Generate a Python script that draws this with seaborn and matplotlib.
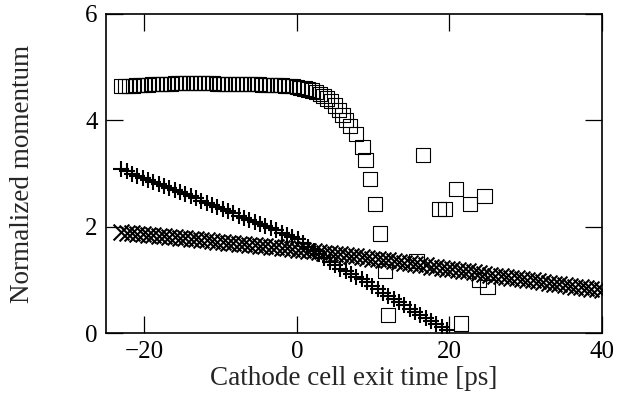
import matplotlib
matplotlib.use("Agg")
import matplotlib.pyplot as plt
import seaborn as sns
import pandas as pd

# ---- data ----
sq_x = [-23.0, -22.5, -22.0, -21.5, -21.0, -20.5, -20.0, -19.5, -19.0, -18.5,
        -18.0, -17.5, -17.0, -16.5, -16.0, -15.5, -15.0, -14.5, -14.0, -13.5,
        -13.0, -12.5, -12.0, -11.5, -11.0, -10.5, -10.0, -9.5, -9.0, -8.5,
        -8.0, -7.5, -7.0, -6.5, -6.0, -5.5, -5.0, -4.5, -4.0, -3.5,
        -3.0, -2.5, -2.0, -1.5, -1.0, -0.5, 0.0, 0.5, 1.0, 1.5,
        2.0, 2.5, 3.0, 3.5, 4.0, 4.5, 5.0, 5.5, 6.0, 6.5,
        7.0, 7.8, 8.6, 9.0, 9.6, 10.3, 10.9, 11.6, 12.0, 15.7,
        16.5, 18.6, 19.4, 20.9, 21.5, 22.7, 23.9, 24.6, 25.0]
sq_y = [4.64, 4.64, 4.65, 4.65, 4.66, 4.66, 4.67, 4.67, 4.68, 4.68,
        4.68, 4.69, 4.69, 4.69, 4.70, 4.70, 4.70, 4.70, 4.70, 4.70,
        4.70, 4.70, 4.70, 4.70, 4.70, 4.69, 4.69, 4.69, 4.69, 4.68,
        4.68, 4.68, 4.68, 4.68, 4.68, 4.68, 4.68, 4.67, 4.67, 4.67,
        4.66, 4.66, 4.66, 4.65, 4.65, 4.64, 4.62, 4.61, 4.60, 4.58,
        4.56, 4.53, 4.50, 4.46, 4.41, 4.36, 4.28, 4.20, 4.10, 4.00,
        3.90, 3.74, 3.50, 3.25, 2.89, 2.43, 1.87, 1.16, 0.34, 1.35,
        3.35, 2.33, 2.33, 2.71, 0.18, 2.43, 1.00, 2.58, 0.86]

plus_x = [-23.0, -22.3, -21.6, -20.9, -20.2, -19.5, -18.8, -18.1, -17.4, -16.7,
          -16.0, -15.3, -14.6, -13.9, -13.2, -12.5, -11.8, -11.1, -10.4, -9.7,
          -9.0, -8.3, -7.6, -6.9, -6.2, -5.5, -4.8, -4.1, -3.4, -2.7,
          -2.0, -1.3, -0.6, 0.1, 0.8, 1.5, 2.2, 2.9, 3.6, 4.3,
          5.0, 5.7, 6.4, 7.1, 7.8, 8.5, 9.2, 9.9, 10.6, 11.3,
          12.0, 12.7, 13.4, 14.1, 14.8, 15.5, 16.2, 16.9, 17.6, 18.3,
          19.0, 19.7]
plus_y = [3.08, 3.04, 3.00, 2.96, 2.92, 2.88, 2.84, 2.80, 2.76, 2.73,
          2.69, 2.65, 2.61, 2.57, 2.53, 2.49, 2.45, 2.41, 2.37, 2.33,
          2.29, 2.25, 2.21, 2.17, 2.13, 2.09, 2.05, 2.01, 1.97, 1.93,
          1.89, 1.85, 1.81, 1.76, 1.69, 1.62, 1.55, 1.48, 1.41, 1.34,
          1.27, 1.21, 1.16, 1.11, 1.06, 1.01, 0.95, 0.89, 0.83, 0.76,
          0.70, 0.64, 0.58, 0.52, 0.46, 0.40, 0.34, 0.28, 0.23, 0.17,
          0.11, 0.05]

cross_x = [-23.0, -22.3, -21.6, -20.9, -20.2, -19.5, -18.8, -18.1, -17.4, -16.7,
           -16.0, -15.3, -14.6, -13.9, -13.2, -12.5, -11.8, -11.1, -10.4, -9.7,
           -9.0, -8.3, -7.6, -6.9, -6.2, -5.5, -4.8, -4.1, -3.4, -2.7,
           -2.0, -1.3, -0.6, 0.1, 0.8, 1.5, 2.2, 2.9, 3.6, 4.3,
           5.0, 5.7, 6.4, 7.1, 7.8, 8.5, 9.2, 9.9, 10.6, 11.3,
           12.0, 12.7, 13.4, 14.1, 14.8, 15.5, 16.2, 16.9, 17.6, 18.3,
           19.0, 19.7, 20.4, 21.1, 21.8, 22.5, 23.2, 23.9, 24.6, 25.3,
           26.0, 26.7, 27.4, 28.1, 28.8, 29.5, 30.2, 30.9, 31.6, 32.3,
           33.0, 33.7, 34.4, 35.1, 35.8, 36.5, 37.2, 37.9, 38.6, 39.3,
           40.0]
cross_y = [1.90, 1.89, 1.88, 1.87, 1.86, 1.85, 1.84, 1.83, 1.82, 1.81,
           1.80, 1.79, 1.78, 1.77, 1.76, 1.75, 1.74, 1.73, 1.72, 1.71,
           1.70, 1.69, 1.68, 1.67, 1.66, 1.65, 1.64, 1.63, 1.62, 1.61,
           1.60, 1.59, 1.58, 1.57, 1.56, 1.55, 1.54, 1.53, 1.51, 1.50,
           1.49, 1.48, 1.47, 1.45, 1.44, 1.43, 1.42, 1.40, 1.39, 1.38,
           1.37, 1.35, 1.34, 1.32, 1.31, 1.30, 1.28, 1.27, 1.25, 1.24,
           1.23, 1.21, 1.20, 1.18, 1.17, 1.16, 1.14, 1.13, 1.11, 1.10,
           1.08, 1.07, 1.06, 1.04, 1.03, 1.01, 1.00, 0.99, 0.97, 0.96,
           0.94, 0.93, 0.92, 0.90, 0.89, 0.87, 0.86, 0.85, 0.83, 0.82,
           0.80]

x_ticks = [-20, 0, 20, 40]
y_ticks = [0, 2, 4, 6]
x_label = "Cathode cell exit time [ps]"
y_label = "Normalized momentum"

# ---- plotting ----
sns.set_theme(style="ticks")
plt.rcParams["font.family"] = ["Liberation Serif", "DejaVu Serif"]

fig = plt.figure(figsize=(6.18, 3.93), dpi=100)
ax = fig.add_axes([106 / 618, 60 / 393, 496 / 618, 319 / 393])

df_sq = pd.DataFrame({"x": sq_x, "y": sq_y})
df_plus = pd.DataFrame({"x": plus_x, "y": plus_y})
df_cross = pd.DataFrame({"x": cross_x, "y": cross_y})

sns.scatterplot(data=df_cross, x="x", y="y", ax=ax, marker="x", s=130,
                color="black", linewidth=1.5, zorder=2)
sns.scatterplot(data=df_plus, x="x", y="y", ax=ax, marker="+", s=140,
                color="black", linewidth=1.5, zorder=3)
sns.scatterplot(data=df_sq, x="x", y="y", ax=ax, marker="s", s=105,
                facecolor="none", edgecolor="black", linewidth=0.8, zorder=4)

ax.set_xlim(-25, 40)
ax.set_ylim(0, 6)
ax.set_xticks(x_ticks)
ax.set_yticks(y_ticks)
ax.set_xticklabels(["\u221220", "0", "20", "40"])
ax.set_yticklabels([str(v) for v in y_ticks])
ax.tick_params(direction="in", length=12, width=0.9, top=True, right=True,
               labelsize=18, colors="black", pad=6)
for s in ax.spines.values():
    s.set_visible(True)
    s.set_linewidth(1.2)
    s.set_color("black")
ax.set_xlabel(x_label, fontsize=19.5, labelpad=2)
ax.set_ylabel(y_label, fontsize=19.5, labelpad=36)

fig.savefig("out.png", dpi=100)
